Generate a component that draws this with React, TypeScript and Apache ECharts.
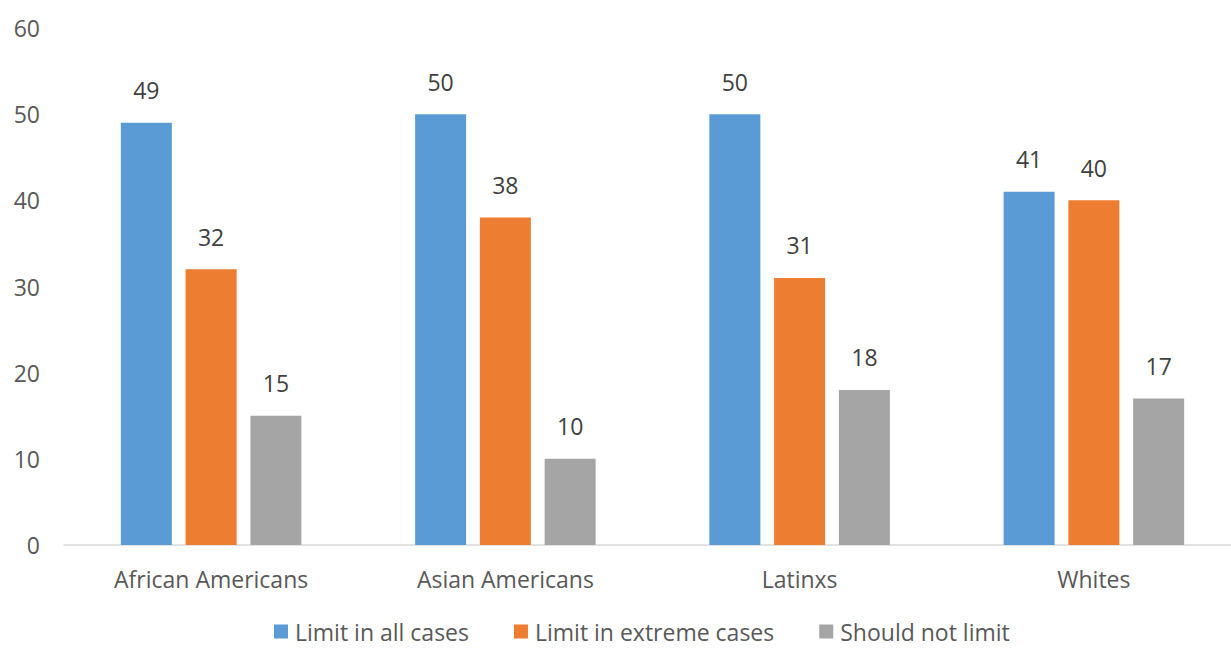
import React, { useEffect, useRef } from "react";
import * as echarts from "echarts";

const categories = ["African Americans", "Asian Americans", "Latinxs", "Whites"];
const limitAll = [49, 50, 50, 41];
const limitExtreme = [32, 38, 31, 40];
const shouldNot = [15, 10, 18, 17];
const seriesNames = ["Limit in all cases", "Limit in extreme cases", "Should not limit"];
const colors = ["#5B9BD5", "#ED7D31", "#A5A5A5"];

export default function App() {
  const ref = useRef<HTMLDivElement>(null);
  useEffect(() => {
    if (!ref.current) return;
    const chart = echarts.init(ref.current, undefined, { renderer: "svg" });
    const font = "'Open Sans', sans-serif";
    const mk = (name: string, data: number[], color: string) => ({
      name,
      type: "bar",
      data,
      barWidth: 51,
      barGap: "27%",
      itemStyle: { color },
      label: {
        show: true,
        position: "top",
        distance: 21,
        color: "#404040",
        fontSize: 23,
        fontFamily: font,
      },
    });
    chart.setOption({
      animation: false,
      color: colors,
      textStyle: { fontFamily: font },
      grid: {
        left: 64,
        top: 28,
        width: 1177,
        height: 517,
        containLabel: false,
        outerBoundsMode: "none",
      },
      legend: {
        left: 274,
        top: 620,
        padding: 0,
        itemWidth: 14,
        itemHeight: 14,
        itemGap: 45,
        icon: "rect",
        textStyle: {
          color: "#595959",
          fontSize: 23,
          fontFamily: font,
          lineHeight: 22,
          padding: [0, 0, 0, 2],
        },
        data: seriesNames,
      },
      xAxis: {
        type: "category",
        data: categories,
        axisLine: { lineStyle: { color: "#D9D9D9", width: 1.5 } },
        axisTick: { show: false },
        axisLabel: { color: "#595959", fontSize: 23, margin: 22, fontFamily: font },
      },
      yAxis: {
        type: "value",
        min: 0,
        max: 60,
        interval: 10,
        axisLine: { show: false },
        axisTick: { show: false },
        splitLine: { show: false },
        axisLabel: { color: "#595959", fontSize: 23, margin: 24, fontFamily: font },
      },
      series: [
        mk(seriesNames[0], limitAll, colors[0]),
        mk(seriesNames[1], limitExtreme, colors[1]),
        mk(seriesNames[2], shouldNot, colors[2]),
      ],
    });
    return () => chart.dispose();
  }, []);
  return (
    <div
      ref={ref}
      style={{ position: "fixed", left: 0, top: 0, width: 1231, height: 650, background: "#fff" }}
    />
  );
}
